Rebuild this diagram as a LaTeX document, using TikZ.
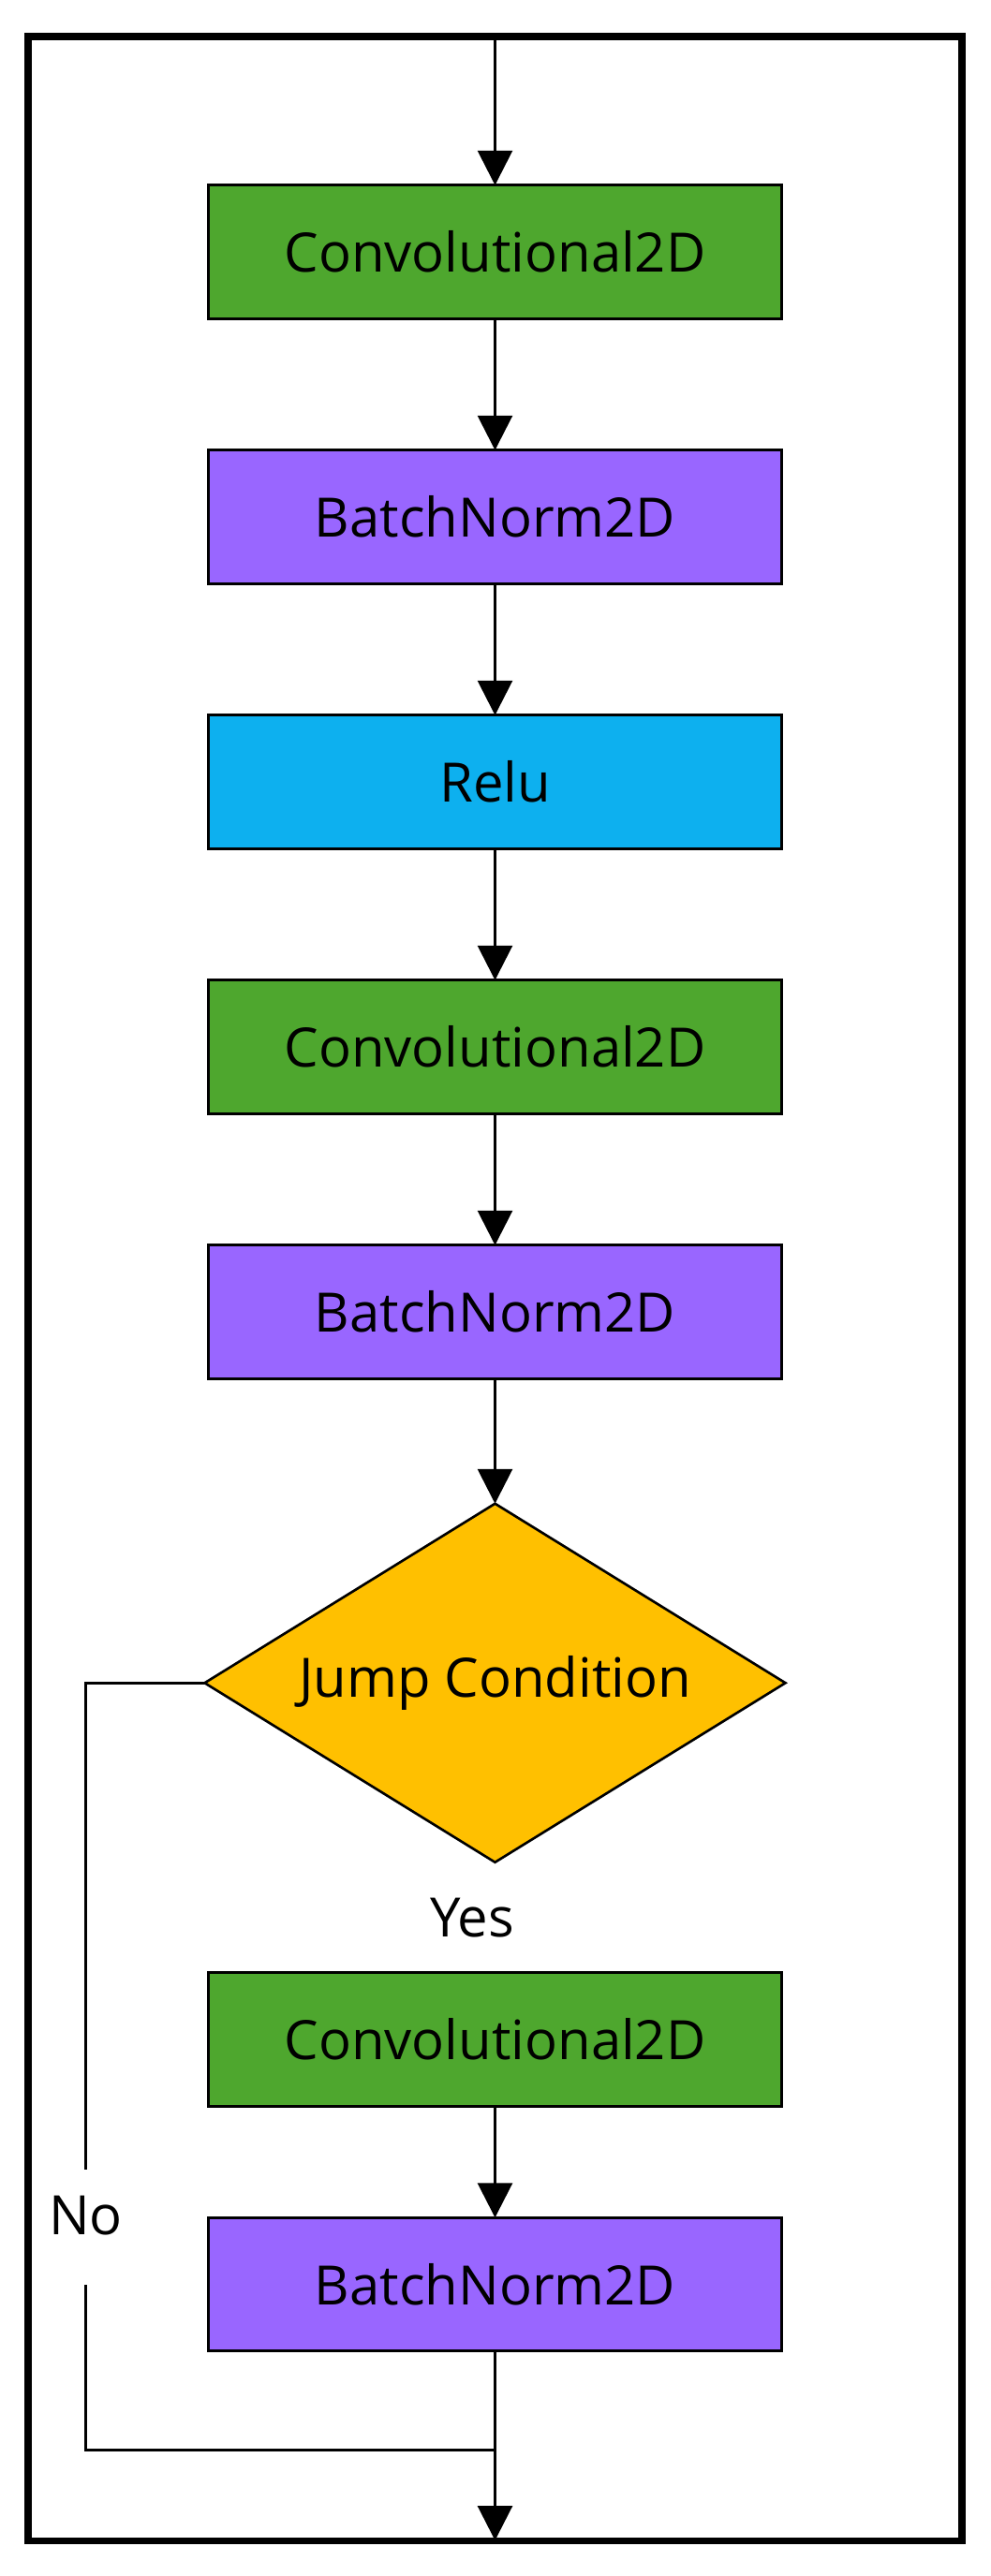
\documentclass[tikz,border=0pt]{standalone}
\usepackage{fontspec}
\setmainfont{Open Sans}
\usetikzlibrary{positioning, shapes.geometric, arrows.meta}

\definecolor{convgreen}{HTML}{4EA72E}
\definecolor{normpurple}{HTML}{9966FF}
\definecolor{relublue}{HTML}{0DB0EF}
\definecolor{jumporange}{HTML}{FFC000}

\tikzset{
    layer/.style={draw, rectangle, line width=1.5pt, minimum width=12.25cm, minimum height=2.85cm, outer sep=0pt, font=\fontsize{33}{40}\selectfont},
    conv/.style={layer, fill=convgreen},
    norm/.style={layer, fill=normpurple},
    relu/.style={layer, fill=relublue},
    note/.style={font=\fontsize{33}{40}\selectfont},
    flow/.style={line width=1.7pt, -{Triangle[length=7.4mm, width=7.4mm]}},
    branch/.style={line width=1.7pt}
}

\begin{document}
\begin{tikzpicture}
    % Frame
    \useasboundingbox (0,0) rectangle (21.16,-55.02);
    \draw[line width=4pt] (0.6,-0.78) rectangle (20.54,-54.26);
    \coordinate (top) at (10.57,-0.78);
    \coordinate (bottom) at (10.57,-54.26);

    % Main path
    \node[conv] (conv1) at (10.57,-5.38) {Convolutional2D};
    \node[norm, below=2.81cm of conv1] (norm1) {BatchNorm2D};
    \node[relu, below=2.81cm of norm1] (relu1) {Relu};
    \node[conv, below=2.81cm of relu1] (conv2) {Convolutional2D};
    \node[norm, below=2.81cm of conv2] (norm2) {BatchNorm2D};
    \node[draw, diamond, fill=jumporange, line width=1.5pt, aspect=1.62, minimum width=12.4cm, minimum height=7.66cm, inner sep=0pt, outer sep=0pt, font=\fontsize{33}{40}\selectfont, below=2.67cm of norm2] (jump) {Jump Condition};

    % Yes branch
    \node[note] (yes) at ([xshift=-0.49cm, yshift=-1.18cm]jump.south) {Yes};
    \node[conv, below=2.36cm of jump] (conv3) {Convolutional2D};
    \node[norm, below=2.38cm of conv3] (norm3) {BatchNorm2D};

    % No branch
    \node[note, inner sep=0pt, text height=1.38cm, text depth=1.08cm, anchor=base] (no) at (1.83,-47.72) {No};
    \coordinate[below=2.11cm of norm3] (merge);

    \draw[flow] (top) -- (conv1);
    \draw[flow] (conv1) -- (norm1);
    \draw[flow] (norm1) -- (relu1);
    \draw[flow] (relu1) -- (conv2);
    \draw[flow] (conv2) -- (norm2);
    \draw[flow] (norm2) -- (jump);
    \draw[flow] (conv3) -- (norm3);
    \draw[branch] (jump.west) -| (no.north);
    \draw[branch] (no.south) |- (merge);
    \draw[flow] (norm3) -- (bottom);
\end{tikzpicture}
\end{document}
